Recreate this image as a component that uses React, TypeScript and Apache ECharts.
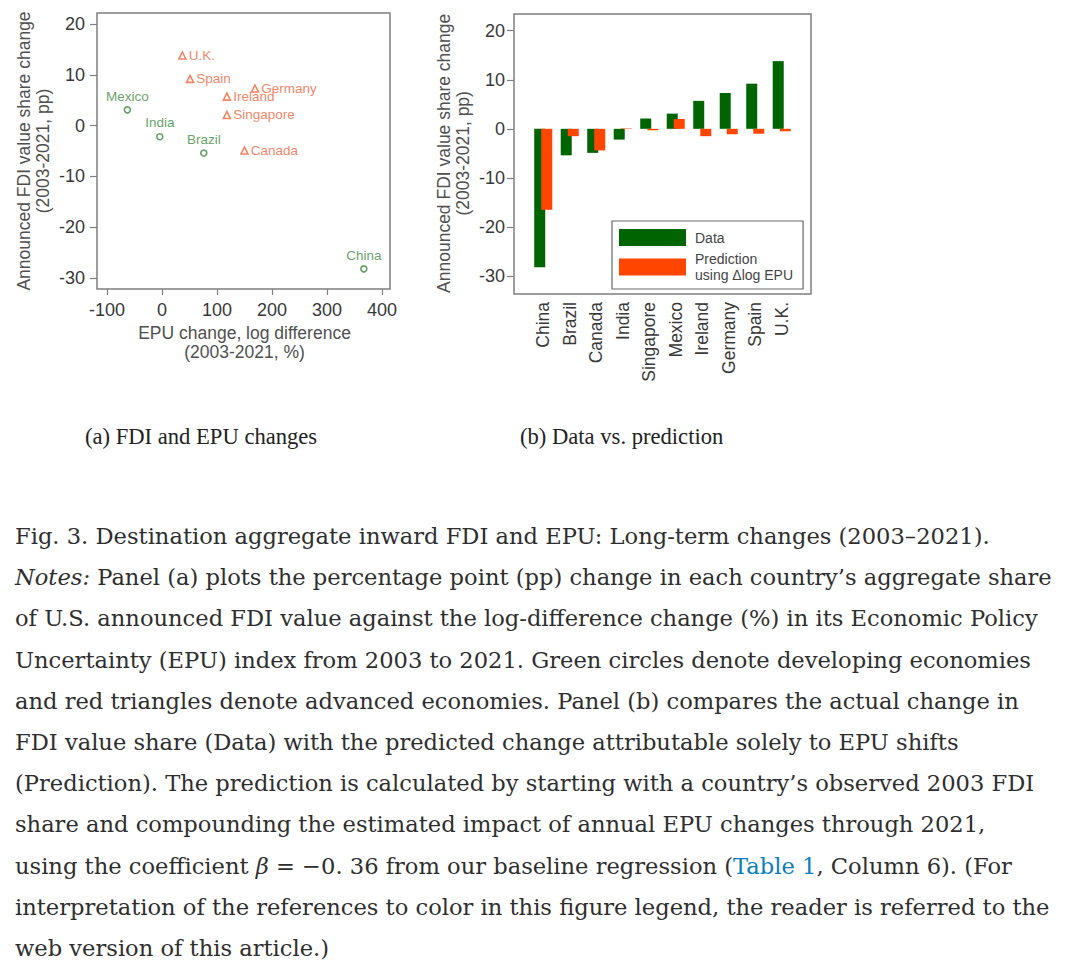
import { useEffect, useRef } from "react";
import * as echarts from "echarts";

// countries in the order of panel (b)
const countries = ["China", "Brazil", "Canada", "India", "Singapore", "Mexico", "Ireland", "Germany", "Spain", "U.K."];
const advanced = [false, false, true, false, true, false, true, true, true, true];
// announced FDI value share change, 2003-2021 (pp)
const fdiShareChange = [-28.2, -5.4, -4.9, -2.2, 2.1, 3.1, 5.7, 7.3, 9.2, 13.8];
// EPU change, log difference 2003-2021 (%)
const epuLogChange = [367, 76, 150, -4, 118, -63, 118, 169, 51, 37];
// predicted change using delta log EPU
const predictedChange = [-16.5, -1.5, -4.4, 0.1, -0.3, 2.0, -1.5, -1.1, -1.0, -0.5];

const xTicks = { min: -100, max: 400, interval: 100 };
const yTicks = { min: -30, max: 20, interval: 10 };

const captionLines = [
  "Fig. 3. Destination aggregate inward FDI and EPU: Long-term changes (2003–2021).",
  "NOTES",
  "of U.S. announced FDI value against the log-difference change (%) in its Economic Policy",
  "Uncertainty (EPU) index from 2003 to 2021. Green circles denote developing economies",
  "and red triangles denote advanced economies. Panel (b) compares the actual change in",
  "FDI value share (Data) with the predicted change attributable solely to EPU shifts",
  "(Prediction). The prediction is calculated by starting with a country’s observed 2003 FDI",
  "share and compounding the estimated impact of annual EPU changes through 2021,",
  "BETA",
  "interpretation of the references to color in this figure legend, the reader is referred to the",
  "web version of this article.)",
];

const SANS = "'Liberation Sans', Arial, sans-serif";
const GREEN_PT = "#3d8b3d";
const RED_PT = "#f0643c";
const GREEN_BAR = "#006400";
const ORANGE_BAR = "#ff4500";
const FRAME = "#7f7f7f";
const TICK_TEXT = "#383838";
const TITLE_TEXT = "#505050";

function Chart() {
  const ref = useRef<HTMLDivElement>(null);

  useEffect(() => {
    if (!ref.current) return;
    const chart = echarts.init(ref.current, undefined, { renderer: "svg" });

    const pts = countries.map((c, i) => ({ name: c, value: [epuLogChange[i], fdiShareChange[i]], adv: advanced[i] }));

    const valueY = (gridIndex: number, offset: number, margin: number, gap: number) => ({
      type: "value" as const,
      gridIndex,
      ...yTicks,
      offset,
      axisLine: { show: false, onZero: false },
      axisTick: { show: true, inside: false, length: 7, lineStyle: { color: FRAME, width: 1.2 } },
      axisLabel: { color: TICK_TEXT, fontSize: 18, fontFamily: SANS, margin },
      splitLine: { show: false },
      name: "Announced FDI value share change\n(2003-2021, pp)",
      nameLocation: "middle" as const,
      nameGap: gap,
      nameRotate: 90,
      nameTextStyle: { color: TITLE_TEXT, fontSize: 17.5, fontFamily: SANS, lineHeight: 19 },
    });

    chart.setOption({
      animation: false,
      grid: [
        { left: 107, top: 24, width: 275, height: 254 },
        { left: 530, top: 30.7, width: 265, height: 245.3 },
      ],
      xAxis: [
        {
          type: "value",
          gridIndex: 0,
          ...xTicks,
          offset: 11,
          axisLine: { show: false, onZero: false },
          axisTick: { show: true, inside: false, length: 6, lineStyle: { color: FRAME, width: 1.2 } },
          axisLabel: { color: TICK_TEXT, fontSize: 18, fontFamily: SANS, margin: 12 },
          splitLine: { show: false },
          name: "EPU change, log difference\n(2003-2021, %)",
          nameLocation: "middle",
          nameGap: 30,
          nameTextStyle: { color: TITLE_TEXT, fontSize: 17.5, fontFamily: SANS, lineHeight: 19 },
        },
        {
          type: "category",
          gridIndex: 1,
          data: countries,
          offset: 18,
          axisLine: { show: false, onZero: false },
          axisTick: { show: false },
          axisLabel: { color: TICK_TEXT, fontSize: 17.5, fontFamily: SANS, rotate: 90, margin: 8, interval: 0 },
        },
      ],
      yAxis: [valueY(0, 10, 12, 45), valueY(1, 16, 9, 42)],
      legend: {
        left: 612,
        top: 221,
        orient: "vertical",
        padding: [8, 10, 6, 7],
        itemGap: 5,
        itemWidth: 67,
        itemHeight: 17,
        icon: "rect",
        borderColor: "#666",
        borderWidth: 1.2,
        textStyle: { fontSize: 14, fontFamily: SANS, color: "#444", lineHeight: 16, padding: [0, 0, 0, 4] },
        data: ["Data", "Prediction\nusing Δlog EPU"],
      },
      graphic: [
        { type: "rect", shape: { x: 97, y: 13, width: 293, height: 276 }, style: { fill: "none", stroke: FRAME, lineWidth: 1.5 }, z: 50 },
        { type: "rect", shape: { x: 514, y: 14, width: 297, height: 280 }, style: { fill: "none", stroke: FRAME, lineWidth: 1.5 }, z: 50 },
        {
          type: "text",
          x: 85,
          y: 436,
          style: { text: "(a) FDI and EPU changes", font: "22.6px 'Liberation Serif', serif", fill: "#222", verticalAlign: "middle" },
        },
        {
          type: "text",
          x: 520,
          y: 436,
          style: { text: "(b) Data vs. prediction", font: "22.6px 'Liberation Serif', serif", fill: "#222", verticalAlign: "middle" },
        },
      ],
      series: [
        {
          type: "scatter",
          xAxisIndex: 0,
          yAxisIndex: 0,
          symbol: "circle",
          symbolSize: 6,
          itemStyle: { color: "#fff", borderColor: GREEN_PT, borderWidth: 1.6 },
          label: { show: true, position: "top", distance: 3, formatter: "{b}", color: GREEN_PT, fontSize: 13.5, fontFamily: SANS },
          data: pts.filter((p) => !p.adv).map((p) => ({ name: p.name, value: p.value })),
        },
        {
          type: "scatter",
          xAxisIndex: 0,
          yAxisIndex: 0,
          symbol: "triangle",
          symbolSize: 7,
          itemStyle: { color: "#fff", borderColor: RED_PT, borderWidth: 1.6 },
          label: { show: true, position: "right", distance: 2, formatter: "{b}", color: RED_PT, fontSize: 13.5, fontFamily: SANS },
          data: pts.filter((p) => p.adv).map((p) => ({ name: p.name, value: p.value })),
        },
        {
          name: "Data",
          type: "bar",
          xAxisIndex: 1,
          yAxisIndex: 1,
          barWidth: 11,
          barGap: "-36%",
          itemStyle: { color: GREEN_BAR },
          data: fdiShareChange,
        },
        {
          name: "Prediction\nusing Δlog EPU",
          type: "bar",
          xAxisIndex: 1,
          yAxisIndex: 1,
          barWidth: 11,
          barGap: "-36%",
          itemStyle: { color: ORANGE_BAR },
          data: predictedChange,
        },
      ],
    });

    return () => chart.dispose();
  }, []);

  return <div ref={ref} style={{ position: "absolute", left: 0, top: 0, width: 1086, height: 470 }} />;
}

export default function App() {
  return (
    <div style={{ position: "absolute", left: 0, top: 0, width: 1086, height: 980, background: "#fff" }}>
      <Chart />
      <div
        style={{
          position: "absolute",
          left: 15,
          top: 516,
          fontFamily: "'DejaVu Serif', serif",
          fontSize: 22.6,
          lineHeight: "41.2px",
          color: "#2e2e2e",
          whiteSpace: "nowrap",
        }}
      >
        {captionLines.map((line, i) => {
          if (line === "NOTES")
            return (
              <div key={i}>
                <i>Notes:</i> Panel (a) plots the percentage point (pp) change in each country’s aggregate share
              </div>
            );
          if (line === "BETA")
            return (
              <div key={i}>
                using the coefficient <i>β</i> = −0. 36 from our baseline regression (
                <span style={{ color: "#0c7dbb" }}>Table 1</span>, Column 6). (For
              </div>
            );
          return <div key={i}>{line}</div>;
        })}
      </div>
    </div>
  );
}
